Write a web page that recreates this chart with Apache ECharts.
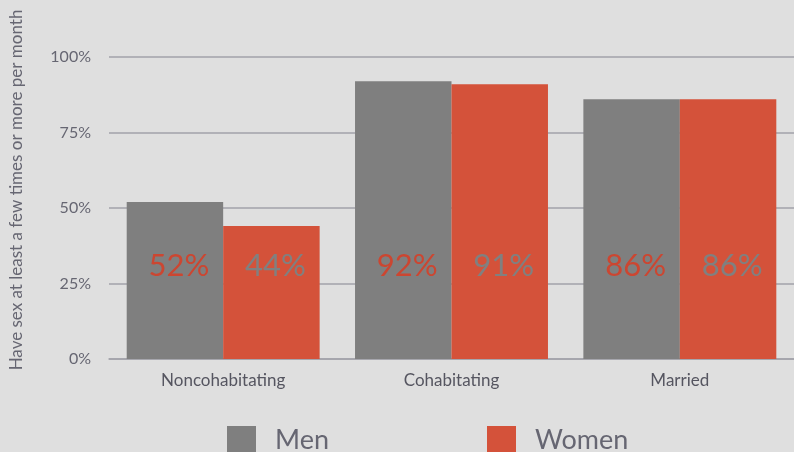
<!DOCTYPE html>
<html>
<head>
<meta charset="utf-8">
<script src="https://cdn.jsdelivr.net/npm/echarts@6/dist/echarts.min.js"></script>
<style>
  html, body { margin: 0; padding: 0; background: #dfdfdf; }
  #chart { width: 794px; height: 452px; }
</style>
</head>
<body>
<div id="chart"></div>
<script>
  var categories = ['Noncohabitating', 'Cohabitating', 'Married'];
  var menValues = [52, 92, 86];
  var womenValues = [44, 91, 86];
  var yTicks = [0, 25, 50, 75, 100];

  var gray = '#7f7f7f';
  var red = '#d4523a';
  var textColor = '#666672';

  var chart = echarts.init(document.getElementById('chart'));
  chart.setOption({
    backgroundColor: '#dfdfdf',
    animation: false,
    textStyle: { fontFamily: 'Lato' },
    grid: { left: 108, right: 0, top: 57, bottom: 93, containLabel: false },
    legend: {
      left: 222, top: 421,
      itemWidth: 29, itemHeight: 29, itemGap: 158,
      icon: 'rect',
      textStyle: { fontSize: 27, color: textColor, padding: [0, 0, 0, 14] },
      data: ['Men', 'Women']
    },
    xAxis: {
      type: 'category',
      data: categories,
      axisLine: { show: true, lineStyle: { color: '#a2a2aa', width: 1.5 } },
      axisTick: { show: false },
      axisLabel: { fontSize: 17, color: '#555560', margin: 13 }
    },
    yAxis: {
      type: 'value',
      min: 0, max: 100, interval: 25,
      name: 'Have sex at least a few times or more per month',
      nameLocation: 'middle',
      nameGap: 84,
      nameTextStyle: { fontSize: 17, color: textColor, padding: [0, 0, 0, 36] },
      axisLine: { show: false },
      axisTick: { show: false },
      axisLabel: {
        fontSize: 16, color: textColor, margin: 18,
        formatter: function (v) { return yTicks.indexOf(v) >= 0 ? v + '%' : ''; }
      },
      splitLine: { lineStyle: { color: '#a2a2aa', width: 1.5 } }
    },
    series: [
      {
        name: 'Men', type: 'bar', data: menValues,
        barGap: '0%', barCategoryGap: '15.5%',
        itemStyle: { color: gray },
        label: {
          show: true, position: 'insideBottom', distance: 78,
          formatter: '{c}%', fontSize: 31, color: '#cc4631', offset: [4, 0]
        }
      },
      {
        name: 'Women', type: 'bar', data: womenValues,
        itemStyle: { color: red },
        label: {
          show: true, position: 'insideBottom', distance: 78,
          formatter: '{c}%', fontSize: 31, color: '#808080', offset: [4, 0]
        }
      }
    ]
  });
</script>
</body>
</html>
